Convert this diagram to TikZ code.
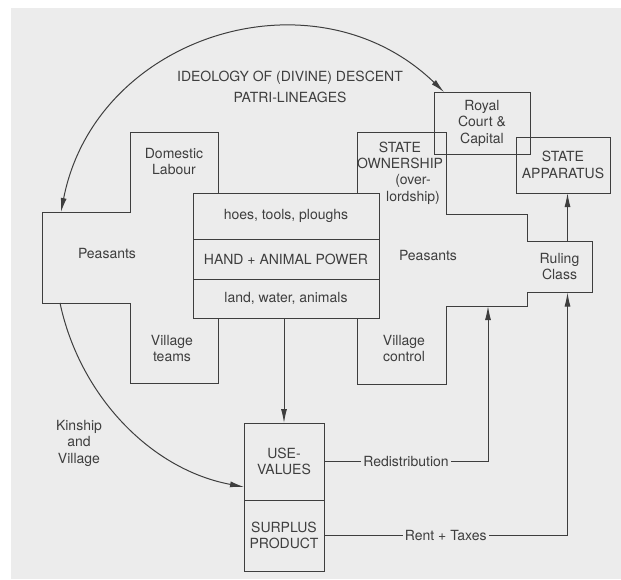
\documentclass[tikz,border=0pt]{standalone}
\usepackage{fontspec}
\setmainfont{TeX Gyre Heros}
\usepackage{tikz}
\usetikzlibrary{positioning}
\usetikzlibrary{calc}
\usetikzlibrary{arrows.meta}
\definecolor{paper}{RGB}{236,236,236}
\definecolor{ink}{RGB}{62,62,62}

\begin{document}
\begin{tikzpicture}[
    x=1pt, y=1pt, color=ink, line width=1pt,
    txt/.style={align=center, inner sep=0pt, font=\fontsize{14}{16.5}\selectfont},
    panel/.style={draw, txt, outer sep=0pt},
    rowbox/.style={draw, fill=paper, txt, minimum width=186pt, outer sep=0pt},
    valbox/.style={draw, fill=paper, txt, minimum width=80pt, outer sep=0pt},
    tag/.style={txt, fill=paper, inner xsep=2pt, inner ysep=1pt},
    flow/.style={-{Latex[length=14pt,width=6pt]}},
    both/.style={{Latex[length=14pt,width=6pt]}-{Latex[length=14pt,width=6pt]}}
]

% Paper and margins
\useasboundingbox (0,0) rectangle (621,-579);
\fill[paper] (11,-8) rectangle (621,-579);

% Left cross (peasant household)
\draw (130,-132) -- (218,-132) -- (218,-383) -- (130,-383) -- (130,-303)
      -- (42,-303) -- (42,-212) -- (130,-212) -- cycle;

% Right cross (state side)
\draw (357,-132) -- (446,-132) -- (446,-214) -- (527,-214) -- (527,-241)
      -- (592,-241) -- (592,-292) -- (527,-292) -- (527,-306) -- (446,-306)
      -- (446,-384) -- (357,-384) -- cycle;

% Forces of production
\node[rowbox, minimum height=46pt] (tools) at (286,-216) {hoes, tools, ploughs};
\node[rowbox, minimum height=40pt, below=0pt of tools] (power) {HAND + ANIMAL POWER};
\node[rowbox, minimum height=39pt, below=0pt of power] (land) {land, water, animals};

% Product
\node[valbox, minimum height=77pt] (use) at (284,-461.5) {USE-\\VALUES};
\node[valbox, minimum height=71pt, below=0pt of use] (surplus) {SURPLUS\\PRODUCT};

% State boxes
\node[panel, minimum width=96pt, minimum height=62pt] (royal) at (482,-123) {Royal\\Court \&\\Capital};
\node[panel, minimum width=94pt, minimum height=56pt] (apparatus) at (563,-165) {STATE\\APPARATUS};

% Labels inside the crosses
\node[txt] (domestic) at (174,-161.5) {Domestic\\Labour};
\node[txt] (peasL) at (107,-253) {Peasants};
\node[txt] (teams) at (172,-348.5) {Village\\teams};
\node[txt] (ownership) at (400,-155.5) {STATE\\OWNERSHIP};
\node[txt] (overlord) at (413,-189.5) {(over-\\lordship)};
\node[txt] (peasR) at (428,-255) {Peasants};
\node[txt] (control) at (404,-348.5) {Village\\control};
\node[txt, minimum width=65pt, minimum height=51pt] (ruling) at (559.5,-266.5) {Ruling\\Class};

% Free labels
\node[txt, font=\fontsize{14}{21}\selectfont] (ideology) at (290,-86.5) {IDEOLOGY OF (DIVINE) DESCENT\\PATRI-LINEAGES};
\node[txt] (kinship) at (79,-443) {Kinship\\and\\Village};

% Curve ends and arrow anchors
\coordinate (armtop) at (61,-212);
\coordinate (armbot) at (60,-303);
\coordinate (armR) at (488,-306);
\coordinate (rulein) at ([xshift=8pt]ruling.south);
\coordinate (rulout) at ([xshift=8pt]ruling.north);

% Ideology arc and kinship arc
\draw[both] (armtop) to[out=79, in=136, looseness=1.15] ($(royal.north west)+(10,0)$);
\draw[flow] (armbot) to[out=-78, in=169.5, looseness=0.93] ($(use.south west)!0.17!(use.north west)$);

% Flows
\draw[flow] (use.north |- land.south) -- (use.north);
\draw[flow] (use.east) -- node[tag] {Redistribution} (use.east -| armR) -- (armR);
\draw[flow] (surplus.east) -- node[tag] {Rent + Taxes} (surplus.east -| rulein) -- (rulein);
\draw[flow] (rulout) -- (rulout |- apparatus.south);

\end{tikzpicture}
\end{document}
